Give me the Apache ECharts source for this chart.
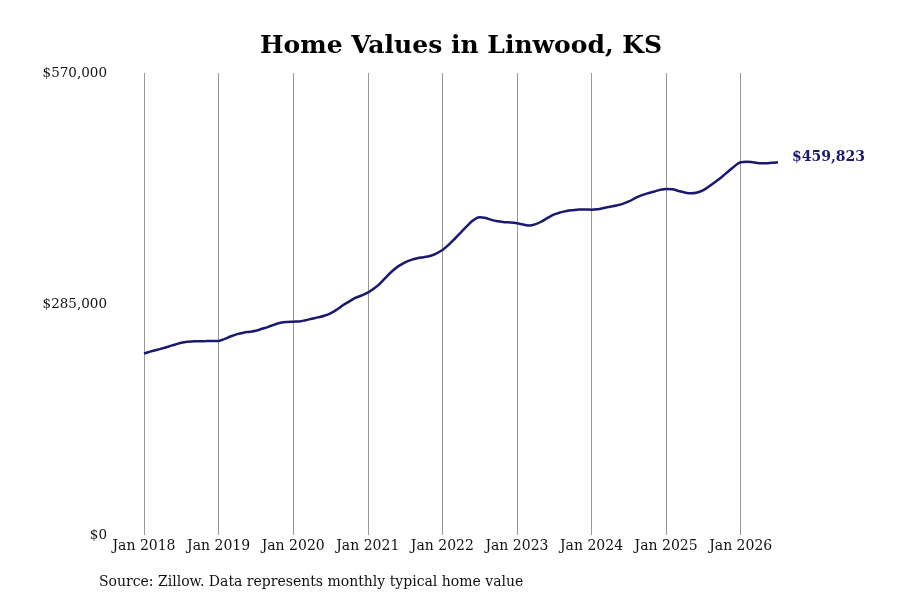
<!DOCTYPE html>
<html>
<head>
<meta charset="UTF-8">
<title>Home Values in Linwood, KS</title>
<script src="https://cdn.jsdelivr.net/npm/echarts@6/dist/echarts.min.js"></script>
<style>
  html, body { margin: 0; padding: 0; background: #fff; }
  #chart { width: 900px; height: 600px; }
</style>
</head>
<body>
<div id="chart"></div>
<script>
  // typical home value, one array per year (Jan..Dec)
  var years = [2018, 2019, 2020, 2021, 2022, 2023, 2024, 2025, 2026];
  var monthNames = ['Jan', 'Feb', 'Mar', 'Apr', 'May', 'Jun', 'Jul', 'Aug', 'Sep', 'Oct', 'Nov', 'Dec'];

  var values2018 = [224000, 226200, 228300, 230400, 232600, 235000, 237300, 238500, 238900, 239100, 239200, 239300];
  var values2019 = [239400, 242000, 245200, 247800, 249600, 250800, 252100, 254400, 256800, 259600, 261800, 262800];
  var values2020 = [263200, 263500, 265000, 266800, 268500, 270500, 273500, 278000, 283500, 288000, 292500, 295500];
  var values2021 = [299000, 304000, 310500, 318500, 326000, 332000, 336500, 339500, 341500, 342800, 344200, 347200];
  var values2022 = [351600, 358000, 365500, 373500, 381500, 388500, 392000, 391000, 388500, 387000, 386000, 385500];
  var values2023 = [384500, 383000, 381800, 383500, 387000, 391500, 395500, 398000, 399800, 400800, 401500, 401600];
  var values2024 = [401300, 402000, 403500, 405000, 406500, 408500, 411500, 415500, 419000, 421500, 423500, 425800];
  var values2025 = [426900, 426500, 424500, 422500, 421500, 422500, 425500, 430500, 436000, 442000, 448500, 455000];
  var values2026 = [459900, 460600, 459800, 458800, 458600, 459200, 459823];

  var yTicks = [0, 285000, 570000];

  var values = [].concat(values2018, values2019, values2020, values2021, values2022,
    values2023, values2024, values2025, values2026);

  var months = [];
  years.forEach(function(y) {
    monthNames.forEach(function(m) { months.push(m + ' ' + y); });
  });
  months = months.slice(0, values.length);

  var serif = 'DejaVu Serif';
  var navy = '#191970';

  function isJan(index) { return index % 12 === 0; }

  var chart = echarts.init(document.getElementById('chart'));
  chart.setOption({
    backgroundColor: '#fff',
    animation: false,
    title: {
      text: 'Home Values in Linwood, KS',
      left: 456,
      textAlign: 'center',
      top: 29,
      textStyle: { fontFamily: serif, fontWeight: 'bold', fontSize: 25, color: '#000' }
    },
    grid: { left: 144, right: 122, top: 73, bottom: 65 },
    xAxis: {
      type: 'category',
      data: months,
      boundaryGap: false,
      axisLine: { show: false },
      axisTick: { show: false },
      axisLabel: {
        interval: function(index) { return isJan(index); },
        margin: 4,
        fontFamily: serif,
        fontSize: 14,
        color: '#111'
      },
      splitLine: {
        show: true,
        interval: function(index) { return isJan(index); },
        lineStyle: { color: '#999', width: 1 }
      }
    },
    yAxis: {
      type: 'value',
      min: yTicks[0],
      max: yTicks[yTicks.length - 1],
      interval: yTicks[1] - yTicks[0],
      axisLine: { show: false },
      axisTick: { show: false },
      splitLine: { show: false },
      axisLabel: {
        margin: 37,
        fontFamily: serif,
        fontSize: 13.5,
        color: '#111',
        verticalAlign: 'middle',
        formatter: function(v) { return '$' + v.toLocaleString('en-US'); }
      }
    },
    series: [{
      type: 'line',
      data: values,
      smooth: 0.4,
      symbol: 'none',
      lineStyle: { color: navy, width: 2.5 },
      endLabel: {
        show: true,
        distance: 14,
        offset: [0, -5],
        fontFamily: serif,
        fontWeight: 'bold',
        fontSize: 14,
        color: navy,
        formatter: function(p) { return '$' + p.value.toLocaleString('en-US'); }
      }
    }],
    graphic: [{
      type: 'text',
      left: 99,
      top: 575,
      style: {
        text: 'Source: Zillow. Data represents monthly typical home value',
        font: '14px "DejaVu Serif"',
        fill: '#111'
      }
    }]
  });
</script>
</body>
</html>
